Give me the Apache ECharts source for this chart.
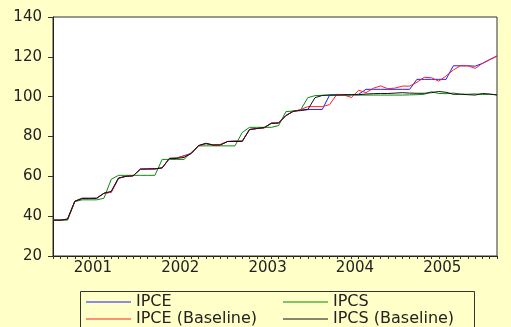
<!DOCTYPE html>
<html>
<head>
<meta charset="utf-8">
<script src="https://cdn.jsdelivr.net/npm/echarts@6/dist/echarts.min.js"></script>
<style>
html,body{margin:0;padding:0;background:#FFFFC8;}
#chart{width:511px;height:327px;}
</style>
</head>
<body>
<div id="chart"></div>
<script>
// Monthly categories 2001M01 .. 2006M02
const startYear = 2001;
const nMonths = 62;
const months = [];
for (let i = 0; i < nMonths; i++) {
  const y = startYear + Math.floor(i / 12);
  const m = (i % 12) + 1;
  months.push(y + 'M' + (m < 10 ? '0' + m : m));
}
const yearLabels = ['2001', '2002', '2003', '2004', '2005'];
const yTicks = [20, 40, 60, 80, 100, 120, 140];

const ipce = [38, 38, 38.5, 47.5, 49, 49, 49, 51.5, 52, 59,
  60, 60.3, 63.5, 63.7, 63.7, 64.3, 69, 69.2, 70.3, 71.5,
  75.3, 76.4, 75.8, 76, 77.5, 77.7, 77.7, 83.5, 84, 84.3,
  86.8, 86.8, 90.5, 92.6, 93.3, 93.6, 93.6, 93.6, 100.8, 100.9,
  101, 101, 101.2, 103.7, 103.7, 103.7, 103.7, 103.7, 103.7, 103.7,
  108.7, 108.7, 108.7, 108.7, 108.7, 115.5, 115.5, 115.5, 115.3, 116.7,
  118.6, 120.4];
const ipceBaseline = [38, 38, 38.5, 47.5, 49, 49, 49, 51.5, 52, 59,
  60, 60.3, 63.5, 63.7, 63.7, 64.3, 69, 69.2, 70.3, 71.5,
  75.3, 76.4, 75.8, 76, 77.5, 77.7, 77.7, 83.5, 84, 84.3,
  86.8, 86.8, 90.5, 92.6, 93.5, 95, 95, 95, 96, 101.2,
  100.8, 99.6, 103.2, 102, 104.2, 105.4, 104, 104.3, 105.3, 105.3,
  107.2, 109.7, 109.5, 107.8, 110.4, 113.4, 115.5, 115.5, 114.2, 116.7,
  118.6, 120.4];
const ipcs = [38, 38, 38, 47.3, 48.2, 48.2, 48.2, 49, 58.5, 60.5,
  60.5, 60.5, 60.5, 60.5, 60.5, 68.5, 68.5, 68.5, 68.5, 72,
  75.3, 75.3, 75.3, 75.3, 75.3, 75.3, 82, 84.6, 84.6, 84.6,
  84.6, 85.5, 92.5, 92.8, 93.2, 99.5, 100.5, 100.7, 100.8, 100.8,
  100.8, 100.8, 100.8, 100.8, 100.8, 100.8, 100.8, 100.8, 100.8, 100.9,
  101, 101.2, 102.5, 101.6, 101.5, 101.8, 101.3, 101.2, 101.4, 101.1,
  101.2, 101];
const ipcsBaseline = [38, 38, 38.5, 47.5, 48.8, 48.8, 49, 51.5, 52.5, 59.2,
  60, 60.2, 63.7, 63.7, 63.8, 64.2, 69, 69, 69.5, 71.5,
  75.5, 76.6, 75.7, 75.7, 77.5, 77.5, 77.5, 83.5, 84, 84.5,
  86.5, 86.8, 90.5, 92.7, 93, 93.5, 99.5, 100.6, 100.8, 100.8,
  100.9, 101, 101, 101.3, 101.5, 101.6, 101.6, 101.8, 102, 101.8,
  101.7, 101.7, 102, 102.6, 102.2, 101.2, 101.2, 101, 100.8, 101.6,
  101.3, 100.8];

const FONT = 'DejaVu Sans';
const chart = echarts.init(document.getElementById('chart'), null, {renderer: 'canvas'});

function mkSeries(name, data, color) {
  return {
    name: name, type: 'line', data: data, symbol: 'none', animation: false,
    lineStyle: {color: color, width: 1}, itemStyle: {color: color}
  };
}

const legendCommon = {
  orient: 'vertical', top: 294, padding: 0, icon: 'rect',
  itemWidth: 45, itemHeight: 1, itemGap: 1,
  textStyle: {fontFamily: FONT, fontSize: 16, color: '#222', lineHeight: 15}
};

chart.setOption({
  backgroundColor: '#FFFFC8',
  animation: false,
  grid: {left: 53, right: 14, top: 17, bottom: 71, show: true,
    backgroundColor: '#FFFFFF', borderColor: '#333', borderWidth: 1},
  xAxis: {
    type: 'category', data: months, boundaryGap: false,
    axisLine: {lineStyle: {color: '#222', width: 1}},
    axisTick: {show: true, interval: 0, length: 3, lineStyle: {color: '#333'}},
    axisLabel: {
      interval: function (idx) { return idx % 12 === 5; },
      formatter: function (v) { const y = v.slice(0, 4); return yearLabels.indexOf(y) >= 0 ? y : ''; },
      fontFamily: FONT, fontSize: 15, color: '#222', margin: 5,
      padding: [0, 0, 0, 7]
    },
    splitLine: {show: false}
  },
  yAxis: {
    type: 'value', min: yTicks[0], max: yTicks[yTicks.length - 1], interval: 20,
    axisLine: {show: true, lineStyle: {color: '#222', width: 1}},
    axisTick: {show: true, length: 5, lineStyle: {color: '#333'}},
    axisLabel: {fontFamily: FONT, fontSize: 15, color: '#222', margin: 11},
    splitLine: {show: false}
  },
  legend: [
    Object.assign({data: ['IPCE', 'IPCE (Baseline)'], left: 86}, legendCommon),
    Object.assign({data: ['IPCS', 'IPCS (Baseline)'], left: 283}, legendCommon)
  ],
  graphic: [{
    type: 'rect', left: 78, top: 289, silent: true,
    shape: {width: 394, height: 50},
    style: {fill: null, stroke: '#333', lineWidth: 1}
  }],
  series: [
    mkSeries('IPCE', ipce, '#1a1aff'),
    mkSeries('IPCS', ipcs, '#0a8a0a'),
    mkSeries('IPCE (Baseline)', ipceBaseline, '#ff2020'),
    mkSeries('IPCS (Baseline)', ipcsBaseline, '#111111')
  ]
});
</script>
</body>
</html>
